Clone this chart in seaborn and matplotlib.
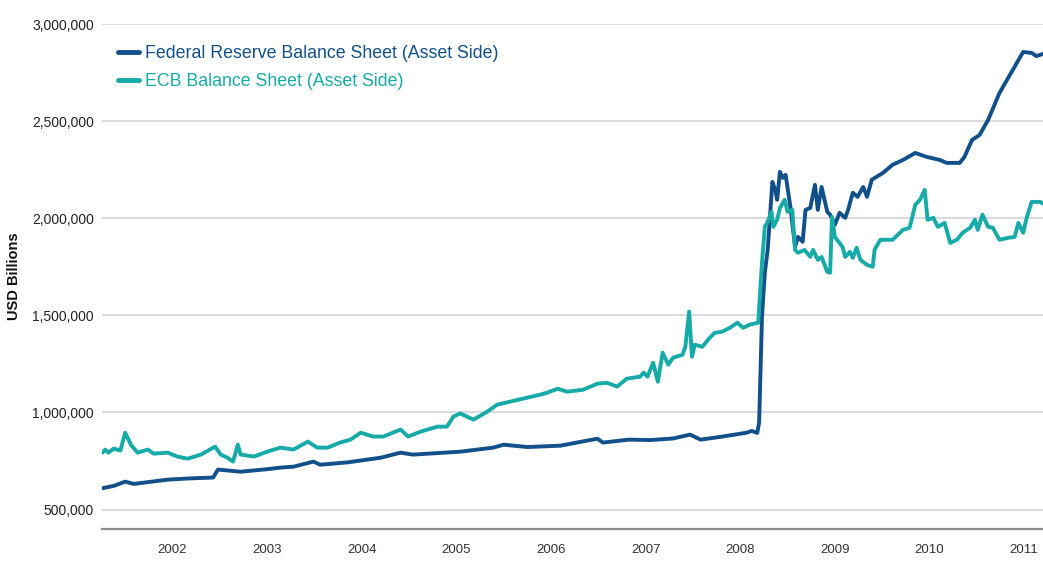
import matplotlib
matplotlib.use("Agg")
import matplotlib.pyplot as plt
import matplotlib.ticker as mticker
import pandas as pd
import seaborn as sns

# Werte in Tausend, x = Jahr als Dezimalzahl
fed_year = [2001.76, 2001.88, 2002.00, 2002.09, 2002.30, 2002.45, 2002.66, 2002.93, 2002.98,
            2003.22, 2003.50, 2003.64, 2003.78, 2003.99, 2004.06, 2004.35, 2004.70, 2004.91,
            2005.04, 2005.54, 2005.89, 2006.00, 2006.25, 2006.60, 2006.99, 2007.05, 2007.32,
            2007.55, 2007.79, 2007.97, 2008.08, 2008.30, 2008.57, 2008.62, 2008.68, 2008.70,
            2008.73, 2008.76, 2008.79, 2008.84, 2008.87, 2008.89, 2008.92, 2008.95, 2008.98,
            2009.03, 2009.08, 2009.11, 2009.16, 2009.19, 2009.24, 2009.29, 2009.32, 2009.36,
            2009.42, 2009.45, 2009.50, 2009.55, 2009.61, 2009.64, 2009.69, 2009.74, 2009.80,
            2009.84, 2009.89, 2009.94, 2010.01, 2010.11, 2010.22, 2010.35, 2010.47, 2010.61,
            2010.68, 2010.82, 2010.87, 2010.95, 2011.03, 2011.12, 2011.24, 2011.38, 2011.49,
            2011.58, 2011.63, 2011.70]
fed_value = [610, 622, 644, 632, 645, 654, 660, 665, 706,
             695, 708, 716, 721, 747, 731, 743, 767, 793,
             783, 798, 819, 834, 822, 829, 865, 845, 860,
             858, 866, 886, 860, 875, 896, 905, 895, 948,
             1493, 1719, 1837, 2187, 2146, 2095, 2239, 2208, 2223,
             2059, 1853, 1904, 1879, 2043, 2053, 2172, 2043, 2161,
             2033, 2018, 1966, 2028, 2002, 2043, 2131, 2110, 2161,
             2110, 2198, 2213, 2234, 2275, 2300, 2336, 2316, 2300,
             2285, 2285, 2316, 2403, 2429, 2506, 2645, 2763, 2856,
             2851, 2835, 2846]

ecb_year = [2001.76, 2001.79, 2001.82, 2001.88, 2001.95, 2002.00, 2002.06, 2002.13, 2002.24,
            2002.30, 2002.45, 2002.55, 2002.66, 2002.80, 2002.95, 2003.01, 2003.08, 2003.14,
            2003.19, 2003.22, 2003.36, 2003.50, 2003.64, 2003.78, 2003.93, 2004.03, 2004.14,
            2004.27, 2004.38, 2004.49, 2004.62, 2004.73, 2004.91, 2004.99, 2005.12, 2005.30,
            2005.40, 2005.47, 2005.54, 2005.68, 2005.83, 2005.93, 2006.07, 2006.25, 2006.39,
            2006.46, 2006.57, 2006.67, 2006.84, 2006.99, 2007.09, 2007.20, 2007.30, 2007.44,
            2007.48, 2007.52, 2007.58, 2007.63, 2007.68, 2007.74, 2007.79, 2007.89, 2007.92,
            2007.96, 2007.99, 2008.02, 2008.10, 2008.16, 2008.23, 2008.31, 2008.39, 2008.47,
            2008.53, 2008.60, 2008.69, 2008.73, 2008.76, 2008.79, 2008.83, 2008.85, 2008.89,
            2008.92, 2008.97, 2009.00, 2009.05, 2009.08, 2009.11, 2009.18, 2009.24, 2009.27,
            2009.32, 2009.36, 2009.42, 2009.45, 2009.47, 2009.50, 2009.58, 2009.61, 2009.66,
            2009.69, 2009.73, 2009.77, 2009.84, 2009.90, 2009.92, 2009.98, 2010.11, 2010.22,
            2010.29, 2010.35, 2010.40, 2010.45, 2010.48, 2010.54, 2010.59, 2010.66, 2010.72,
            2010.79, 2010.85, 2010.93, 2010.98, 2011.01, 2011.06, 2011.12, 2011.17, 2011.24,
            2011.33, 2011.40, 2011.44, 2011.49, 2011.53, 2011.58, 2011.67, 2011.70]
ecb_value = [793, 809, 793, 814, 804, 896, 834, 793, 809,
             788, 793, 773, 762, 783, 824, 783, 767, 747,
             834, 783, 773, 798, 819, 809, 850, 819, 819,
             845, 860, 896, 876, 876, 912, 876, 901, 927,
             927, 979, 995, 963, 1005, 1040, 1056, 1076, 1092,
             1102, 1122, 1107, 1117, 1148, 1153, 1133, 1174, 1184,
             1205, 1184, 1256, 1158, 1308, 1246, 1282, 1297, 1338,
             1519, 1287, 1349, 1338, 1375, 1410, 1416, 1436, 1462,
             1436, 1452, 1462, 1771, 1956, 1982, 2033, 1956, 1992,
             2053, 2095, 2033, 2043, 1837, 1822, 1837, 1801, 1837,
             1786, 1801, 1724, 1719, 2007, 1904, 1853, 1801, 1827,
             1796, 1848, 1786, 1760, 1750, 1837, 1889, 1889, 1940,
             1951, 2069, 2095, 2146, 1992, 2002, 1956, 1976, 1873,
             1889, 1925, 1951, 1992, 1940, 2018, 1956, 1951, 1889,
             1899, 1904, 1976, 1925, 2007, 2084, 2084, 2075]

year_labels = [str(y) for y in range(2002, 2012)]

fed_name = "Federal Reserve Balance Sheet (Asset Side)"
ecb_name = "ECB Balance Sheet (Asset Side)"
fed_color = "#11508a"
ecb_color = "#16aba8"

df = pd.concat([
    pd.DataFrame({"Jahr": fed_year, "Wert": [v * 1000 for v in fed_value], "Serie": fed_name}),
    pd.DataFrame({"Jahr": ecb_year, "Wert": [v * 1000 for v in ecb_value], "Serie": ecb_name}),
])

sns.set_style("white")
plt.rcParams["font.family"] = ["Liberation Sans", "DejaVu Sans"]

fig = plt.figure(figsize=(10.43, 5.70), dpi=100)
ax = fig.add_axes([102 / 1043, 1 - 529 / 570, 1 - 102 / 1043, (529 - 24) / 570])

sns.lineplot(data=df, x="Jahr", y="Wert", hue="Serie", palette=[fed_color, ecb_color],
             linewidth=2.8, ax=ax, sort=False, estimator=None)

ax.set_xlim(2001.755, 2011.70)
ax.set_ylim(400000, 3000000)
ax.set_yticks([500000, 1000000, 1500000, 2000000, 2500000, 3000000])
ax.yaxis.set_major_formatter(mticker.StrMethodFormatter("{x:,.0f}"))
ax.set_xticks([int(y) + 0.5 for y in year_labels])
ax.set_xticklabels(year_labels, fontsize=9.5, color="#333333")
ax.grid(axis="y", color="#d9dae0", linewidth=1.4)
ax.set_axisbelow(True)
for s in ["top", "right", "left"]:
    ax.spines[s].set_visible(False)
ax.spines["bottom"].set_color("#8c8c8c")
ax.spines["bottom"].set_linewidth(1.6)
ax.tick_params(axis="both", length=0)
ax.tick_params(axis="y", labelsize=10, labelcolor="#222222", pad=6)
ax.tick_params(axis="x", pad=11)
ax.set_xlabel("")
ax.set_ylabel("USD Billions", fontsize=10.5, fontweight="bold", color="#111111", labelpad=8)

leg = ax.legend(loc="upper left", bbox_to_anchor=(0.0, 0.99), frameon=False,
                fontsize=12.8, handlelength=1.2, handletextpad=0.3, labelspacing=0.62)
for line, text in zip(leg.get_lines(), leg.get_texts()):
    line.set_linewidth(3.5)
    text.set_color(line.get_color())

fig.savefig("out.png", dpi=100)
